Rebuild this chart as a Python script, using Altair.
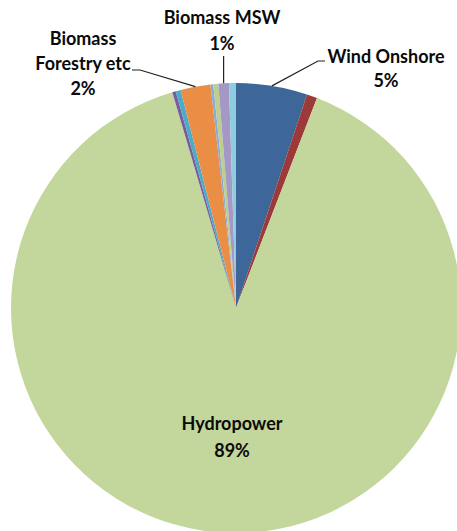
import altair as alt
import pandas as pd
import numpy as np

# ---- data ----
names = ["Wind Onshore", "Wind Offshore", "Hydropower", "Solar PV", "Landfill Gas",
         "Biomass Forestry etc", "Sewage Gas", "Biomass Co-firing", "Biomass MSW", "Biomass Animal"]
shares = [5.1, 0.75, 89.4, 0.25, 0.36, 2.14, 0.2, 0.36, 0.75, 0.5]
colors = ["#3C6798", "#9B3A38", "#C3D69B", "#7A5C9E", "#4AACC6",
          "#EB8E45", "#8EA9D8", "#B9D08E", "#A598C5", "#8ECDE0"]

label_names = ["Biomass MSW", "Biomass Forestry etc", "Wind Onshore", "Hydropower"]
label_lines = [["Biomass MSW", "1%"], ["Biomass", "Forestry etc", "2%"],
               ["Wind Onshore", "5%"], ["Hydropower", "89%"]]

# ---- layout ----
W, H = 457, 531
CX, CY, R = 236, 308, 225
FONT = "Lato"

df = pd.DataFrame({"name": names, "share": shares, "order": range(len(names))})

total = float(sum(shares))
ends = np.cumsum(shares) / total * 360.0
starts = ends - np.array(shares) / total * 360.0
mids = dict(zip(names, (starts + ends) / 2.0))

def edge(name, r=R):
    a = np.deg2rad(mids[name])
    return CX + r * np.sin(a), CY - r * np.cos(a)

pie = alt.Chart(df).mark_arc(outerRadius=R, stroke=None).encode(
    theta=alt.Theta("share:Q", stack=True),
    order=alt.Order("order:Q"),
    color=alt.Color("name:N", scale=alt.Scale(domain=names, range=colors), legend=None),
    x=alt.value(CX), y=alt.value(CY),
)

# text label positions (centre x, first line y, line step)
label_pos = {
    "Biomass MSW": (222, 19, 26),
    "Biomass Forestry etc": (83, 40, 25),
    "Wind Onshore": (386, 58, 24),
    "Hydropower": (232, 425, 27),
}
rows = []
for nm, lines in zip(label_names, label_lines):
    x0, y0, step = label_pos[nm]
    for i, t in enumerate(lines):
        rows.append({"x": x0, "y": y0 + i * step, "t": t})
tdf = pd.DataFrame(rows)

texts = alt.Chart(tdf).mark_text(font=FONT, fontWeight="bold", fontSize=18,
                                 color="#0A0A0A", baseline="middle", align="center").encode(
    x=alt.X("x:Q", scale=None), y=alt.Y("y:Q", scale=None), text="t:N")

# leader lines: from slice edge to label
elbows = {
    "Biomass MSW": [(None, 56)],
    "Biomass Forestry etc": [(140, 70), (132, 70)],
    "Wind Onshore": [(318, 61), (325, 61)],
}
lrows = []
for nm, pts in elbows.items():
    ex, ey = edge(nm)
    lrows.append({"g": nm, "i": 0, "x": ex, "y": ey})
    for k, (px, py) in enumerate(pts):
        lrows.append({"g": nm, "i": k + 1, "x": ex if px is None else px, "y": py})
ldf = pd.DataFrame(lrows)

leaders = alt.Chart(ldf).mark_line(color="#222222", strokeWidth=1.2).encode(
    x=alt.X("x:Q", scale=None), y=alt.Y("y:Q", scale=None),
    detail="g:N", order="i:Q")

chart = alt.layer(pie, leaders, texts).properties(
    width=W, height=H, padding=0, autosize="none", background="white"
).configure_view(stroke=None)

chart.save("out.html", embed_options={"renderer": "svg", "actions": False})
